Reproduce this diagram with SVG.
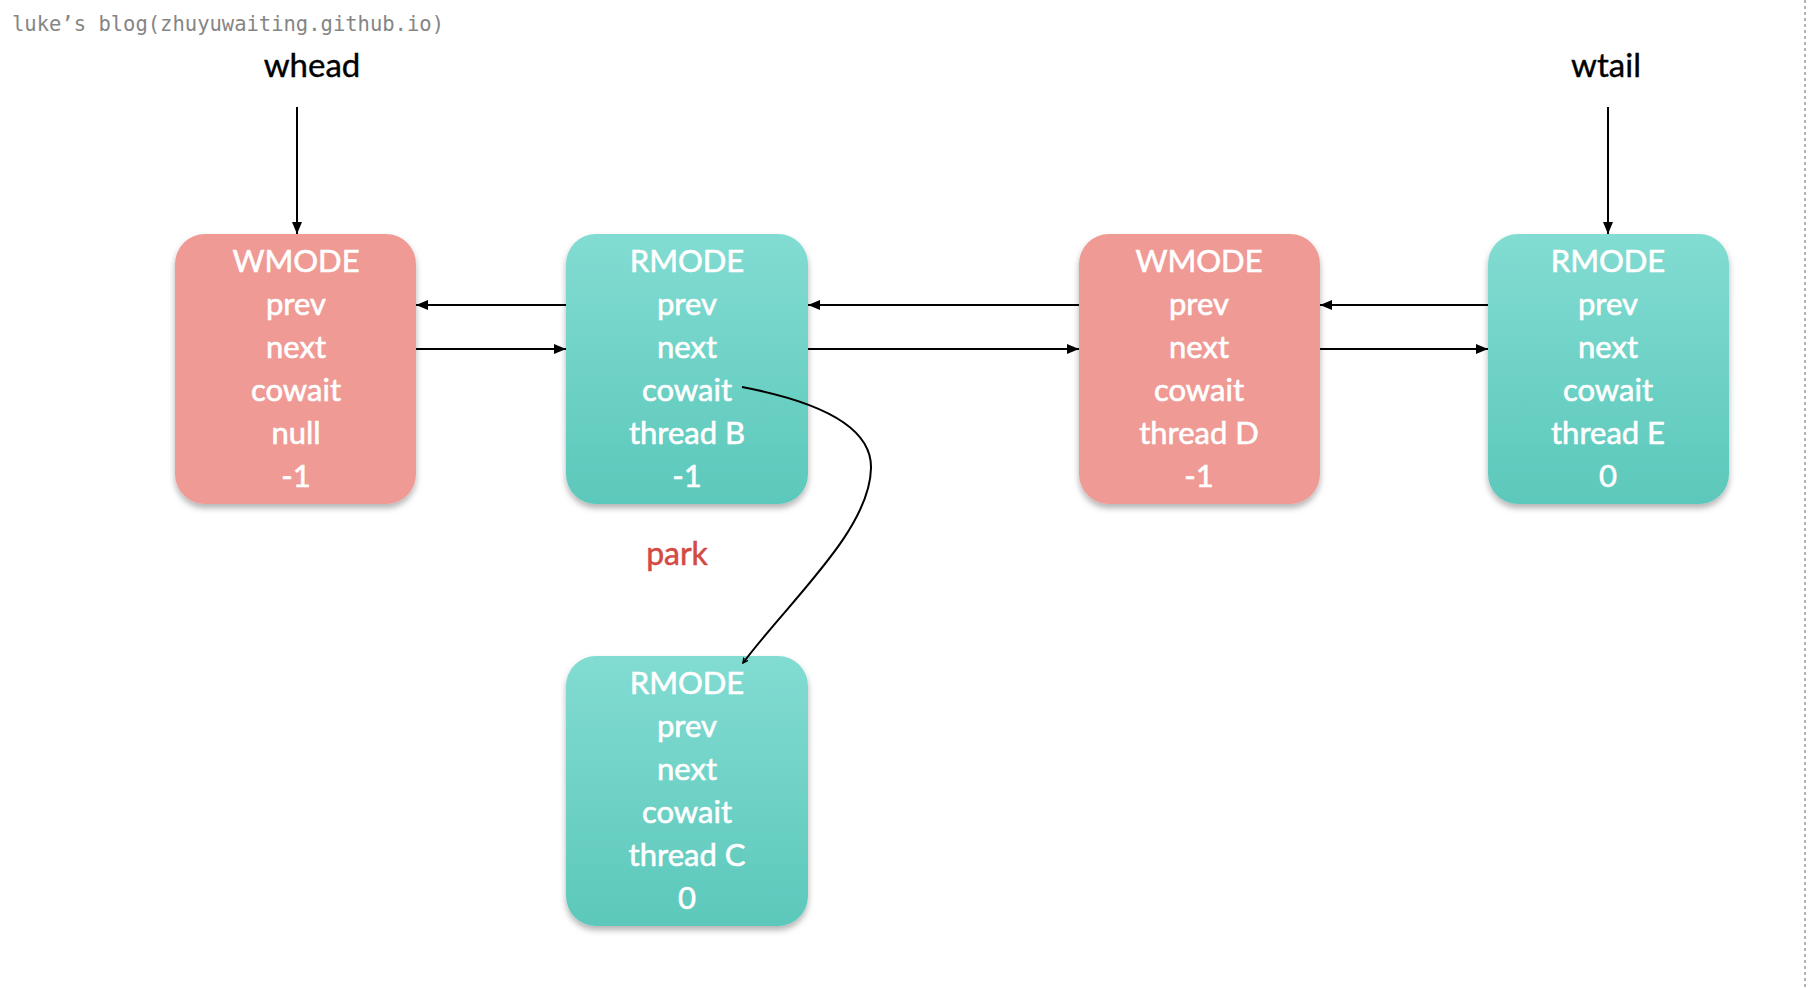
<svg xmlns="http://www.w3.org/2000/svg" width="1808" height="988" viewBox="0 0 1808 988">
  <defs>
    <linearGradient id="teal" x1="0" y1="0" x2="0" y2="1">
      <stop offset="0" stop-color="#82dcd2"/>
      <stop offset="1" stop-color="#5cc8bb"/>
    </linearGradient>
    <filter id="shadow" x="-10%" y="-10%" width="120%" height="125%">
      <feDropShadow dx="0" dy="4" stdDeviation="3" flood-color="#000" flood-opacity="0.3"/>
    </filter>
    <marker id="arrow" viewBox="0 0 12 10" refX="12" refY="5" markerWidth="12" markerHeight="10" markerUnits="userSpaceOnUse" orient="auto">
      <path d="M0,0 L12,5 L0,10 z" fill="#000"/>
    </marker>
    <marker id="tick" viewBox="0 0 6 6" refX="5" refY="3" markerWidth="6" markerHeight="6" markerUnits="userSpaceOnUse" orient="auto">
      <path d="M0,0.5 L5,3 L0,5.5" fill="none" stroke="#000" stroke-width="1.5"/>
    </marker>
    <style>
      .box { filter: url(#shadow); }
      .w { fill: #ef9a95; }
      .r { fill: url(#teal); }
      .lbl { font-family: Lato, "Open Sans", "Liberation Sans", sans-serif; font-size: 31px; fill: #ffffff; stroke: #ffffff; stroke-width: 0.6; text-anchor: middle; }
      .ptr { font-family: Lato, "Open Sans", "Liberation Sans", sans-serif; font-size: 33px; fill: #000000; stroke: #000; stroke-width: 0.4; text-anchor: middle; }
      .park { font-family: Lato, "Open Sans", "Liberation Sans", sans-serif; font-size: 32px; fill: #d44a42; stroke: #d44a42; stroke-width: 0.5; text-anchor: middle; }
      .mark { font-family: "DejaVu Sans Mono", "Liberation Mono", monospace; font-size: 20.5px; fill: #858585; }
      .link { stroke: #000; stroke-width: 2; fill: none; marker-end: url(#arrow); }
    </style>
  </defs>

  <rect width="1808" height="988" fill="#ffffff"/>

  <!-- header and page edge -->
  <text class="mark" x="12" y="31">luke’s blog(zhuyuwaiting.github.io)</text>
  <line x1="1805" y1="0" x2="1805" y2="988" stroke="#9a9a9a" stroke-width="1.5" stroke-dasharray="3 3"/>

  <!-- head / tail pointers -->
  <g id="whead">
    <text class="ptr" x="312" y="77">whead</text>
  </g>
  <g id="wtail">
    <text class="ptr" x="1606" y="77">wtail</text>
  </g>

  <!-- queue nodes -->
  <g id="node-a">
    <rect class="box w" x="175" y="234" width="241" height="270" rx="30"/>
    <text class="lbl" x="296" y="272">WMODE</text>
    <text class="lbl" x="296" y="315">prev</text>
    <text class="lbl" x="296" y="358">next</text>
    <text class="lbl" x="296" y="401">cowait</text>
    <text class="lbl" x="296" y="444">null</text>
    <text class="lbl" x="296" y="487">-1</text>
  </g>
  <g id="node-b">
    <rect class="box r" x="566" y="234" width="242" height="270" rx="30"/>
    <text class="lbl" x="687" y="272">RMODE</text>
    <text class="lbl" x="687" y="315">prev</text>
    <text class="lbl" x="687" y="358">next</text>
    <text class="lbl" x="687" y="401">cowait</text>
    <text class="lbl" x="687" y="444">thread B</text>
    <text class="lbl" x="687" y="487">-1</text>
  </g>
  <g id="node-d">
    <rect class="box w" x="1079" y="234" width="241" height="270" rx="30"/>
    <text class="lbl" x="1199" y="272">WMODE</text>
    <text class="lbl" x="1199" y="315">prev</text>
    <text class="lbl" x="1199" y="358">next</text>
    <text class="lbl" x="1199" y="401">cowait</text>
    <text class="lbl" x="1199" y="444">thread D</text>
    <text class="lbl" x="1199" y="487">-1</text>
  </g>
  <g id="node-e">
    <rect class="box r" x="1488" y="234" width="241" height="270" rx="30"/>
    <text class="lbl" x="1608" y="272">RMODE</text>
    <text class="lbl" x="1608" y="315">prev</text>
    <text class="lbl" x="1608" y="358">next</text>
    <text class="lbl" x="1608" y="401">cowait</text>
    <text class="lbl" x="1608" y="444">thread E</text>
    <text class="lbl" x="1608" y="487">0</text>
  </g>
  <g id="node-c">
    <rect class="box r" x="566" y="656" width="242" height="270" rx="30"/>
    <text class="lbl" x="687" y="694">RMODE</text>
    <text class="lbl" x="687" y="737">prev</text>
    <text class="lbl" x="687" y="780">next</text>
    <text class="lbl" x="687" y="823">cowait</text>
    <text class="lbl" x="687" y="866">thread C</text>
    <text class="lbl" x="687" y="909">0</text>
  </g>

  <g id="park-label">
    <text class="park" x="677" y="565">park</text>
  </g>

  <!-- connectors -->
  <g id="connectors">
    <line class="link" x1="297" y1="107" x2="297" y2="234"/>
    <line class="link" x1="1608" y1="107" x2="1608" y2="234"/>

    <line class="link" x1="566" y1="305" x2="416" y2="305"/>
    <line class="link" x1="416" y1="349" x2="566" y2="349"/>

    <line class="link" x1="1079" y1="305" x2="808" y2="305"/>
    <line class="link" x1="808" y1="349" x2="1079" y2="349"/>

    <line class="link" x1="1488" y1="305" x2="1320" y2="305"/>
    <line class="link" x1="1320" y1="349" x2="1488" y2="349"/>

    <path d="M742,387 C800,398 872,420 871,468 C870,530 790,600 743,663" stroke="#000" stroke-width="2" fill="none" marker-end="url(#tick)"/>
  </g>
</svg>
